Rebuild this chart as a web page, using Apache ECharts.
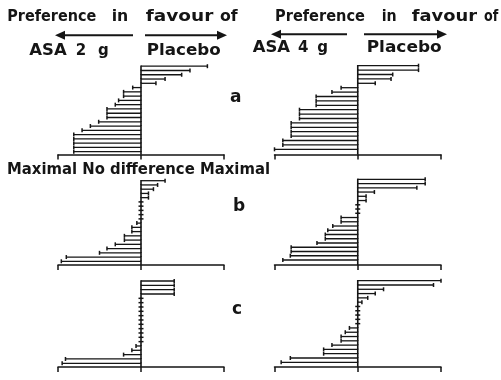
<!DOCTYPE html>
<html><head><meta charset="utf-8">
<script src="https://cdn.jsdelivr.net/npm/echarts@6/dist/echarts.min.js"></script>
<style>html,body{margin:0;padding:0;background:#fff}#c{width:501px;height:380px}</style>
</head><body><div id="c"></div>
<script>
// Preference scores per patient (-1 = maximal preference for ASA, +1 = maximal preference for placebo)
const aAsa2 = [0.80, 0.59, 0.49, 0.29, 0.18, -0.10, -0.21, -0.21, -0.27, -0.31, -0.41, -0.41, -0.41, -0.51, -0.61, -0.71, -0.81, -0.81, -0.81, -0.81, -0.81];
const aAsa4 = [0.73, 0.73, 0.42, 0.40, 0.21, -0.20, -0.31, -0.50, -0.50, -0.50, -0.70, -0.70, -0.70, -0.80, -0.80, -0.80, -0.80, -0.90, -0.90, -1.00];
const bAsa2 = [0.29, 0.20, 0.15, 0.09, 0.09, 0, 0, 0, 0, 0, -0.05, -0.11, -0.11, -0.20, -0.20, -0.31, -0.41, -0.50, -0.90, -0.96];
const bAsa4 = [0.81, 0.81, 0.71, 0.20, 0.10, 0.10, 0, 0, 0, -0.20, -0.20, -0.30, -0.36, -0.39, -0.39, -0.49, -0.80, -0.80, -0.81, -0.90];
const cAsa2 = [0.40, 0.40, 0.40, 0.40, 0, 0, 0, 0, 0, 0, 0, 0, 0, 0, 0, -0.06, -0.11, -0.21, -0.91, -0.95];
const cAsa4 = [1.00, 0.91, 0.31, 0.21, 0.12, 0.05, 0, 0, 0, 0, 0, -0.10, -0.15, -0.20, -0.20, -0.31, -0.41, -0.41, -0.81, -0.92];
const axisTickValues = [-1, 0, 1];
const headerWords = ['Preference', 'in', 'favour', 'of'];
const leftLabelWords = ['ASA', '2', 'g', 'Placebo'];
const rightLabelWords = ['ASA', '4', 'g', 'Placebo'];
const scaleLabel = 'Maximal No difference Maximal';
const panelLetters = ['a', 'b', 'c'];

const INK = '#151515';
const FONT = 'bold 15px "DejaVu Sans"';

const layout = [
  {left: 58, width: 166, first: 66.2, last: 151.7, axis: 154.5},
  {left: 274.5, width: 166.5, first: 65.7, last: 149.3, axis: 154.5},
  {left: 58, width: 166, first: 180.7, last: 261.3, axis: 265},
  {left: 274.5, width: 166.5, first: 179.3, last: 260, axis: 265},
  {left: 58, width: 166, first: 281, last: 363.3, axis: 367},
  {left: 274.5, width: 166.5, first: 280.7, last: 362.3, axis: 367}
];
const panelData = [aAsa2, aAsa4, bAsa2, bAsa4, cAsa2, cAsa4];

function makeRender(N) {
  return function (params, api) {
    const v = api.value(0), i = api.value(1);
    const c0 = api.coord([0, i]), c1 = api.coord([v, i]);
    const cs = params.coordSys;
    const yNext = i === N ? cs.y + cs.height : api.coord([0, i + 1])[1];
    const ch = [{type: 'line', shape: {x1: c0[0], y1: c0[1] - 0.7, x2: c0[0], y2: yNext}, style: {stroke: INK, lineWidth: 1.6}}];
    if (v !== 0) {
      ch.push({type: 'line', shape: {x1: c0[0], y1: c0[1], x2: c1[0], y2: c1[1]}, style: {stroke: INK, lineWidth: 1.3}});
      ch.push({type: 'line', shape: {x1: c1[0], y1: c1[1] - 2, x2: c1[0], y2: c1[1] + 2}, style: {stroke: INK, lineWidth: 1.5}});
    } else {
      ch.push({type: 'line', shape: {x1: c0[0] - 2.5, y1: c0[1], x2: c0[0] + 2.5, y2: c0[1]}, style: {stroke: INK, lineWidth: 1.5}});
    }
    return {type: 'group', children: ch};
  };
}

const grids = [], xAxes = [], yAxes = [], series = [];
panelData.forEach((vals, k) => {
  const L = layout[k];
  const N = vals.length;
  const s = (L.last - L.first) / (N - 1);
  const top = L.first - s;
  const h = L.axis - top;
  grids.push({left: L.left, top: top, width: L.width, height: h, containLabel: false, outerBoundsMode: 'none'});
  xAxes.push({
    gridIndex: k, type: 'value', min: axisTickValues[0], max: axisTickValues[2], interval: 1,
    axisLine: {show: true, onZero: false, lineStyle: {color: INK, width: 1.5}},
    axisTick: {show: true, inside: false, length: 5, lineStyle: {color: INK, width: 1.5}},
    axisLabel: {show: false}, splitLine: {show: false}
  });
  yAxes.push({gridIndex: k, type: 'value', inverse: true, min: 0, max: h / s, show: false, splitLine: {show: false}});
  series.push({
    type: 'custom', xAxisIndex: k, yAxisIndex: k, clip: false, silent: true,
    data: vals.map((v, i) => [v, i + 1]), encode: {x: 0, y: 1},
    renderItem: makeRender(N)
  });
});

// text fitted horizontally to the span it covers in the reference
const mctx = document.createElement('canvas').getContext('2d');
function fit(text, x0, x1, y, font) {
  font = font || FONT;
  mctx.font = font;
  const w = mctx.measureText(text).width;
  if (text.length === 1) {
    return {type: 'text', silent: true, x: (x0 + x1) / 2, y: y, style: {text: text, x: 0, y: 0, font: font, fill: INK, textAlign: 'center', textVerticalAlign: 'middle'}};
  }
  const sx = Math.max(0.85, Math.min(1.3, (x1 - x0) / w));
  return {type: 'text', silent: true, x: x0, y: y, scaleX: sx, scaleY: 1, style: {text: text, x: 0, y: 0, font: font, fill: INK, textAlign: 'left', textVerticalAlign: 'middle'}};
}
function arrow(x1, x2, y, headAt) {
  const dir = headAt === 'left' ? -1 : 1;
  const tip = headAt === 'left' ? x1 : x2;
  const base = tip - dir * 10;
  return [
    {type: 'line', silent: true, shape: {x1: headAt === 'left' ? base : x1, y1: y, x2: headAt === 'left' ? x2 : base, y2: y}, style: {stroke: INK, lineWidth: 2}},
    {type: 'polygon', silent: true, shape: {points: [[tip, y], [base, y - 4.5], [base, y + 4.5]]}, style: {fill: INK}}
  ];
}

const leftHeaderSpans = [[7.3, 96.3], [111.7, 128.3], [145.7, 213.3], [220, 237.7]];
const rightHeaderSpans = [[275, 365], [381.7, 396.7], [411.7, 477], [484, 498.3]];
const leftLabelSpans = [[29.3, 66.7], [76, 86], [96.7, 110], [146.7, 220.7]];
const rightLabelSpans = [[252.7, 290], [298.3, 308.3], [316.7, 328.3], [366.7, 441.7]];
const graphics = [];
headerWords.forEach((w, i) => {
  graphics.push(fit(w, leftHeaderSpans[i][0], leftHeaderSpans[i][1], 17));
  graphics.push(fit(w, rightHeaderSpans[i][0], rightHeaderSpans[i][1], 17));
});
leftLabelWords.forEach((w, i) => graphics.push(fit(w, leftLabelSpans[i][0], leftLabelSpans[i][1], 51.5)));
rightLabelWords.forEach((w, i) => graphics.push(fit(w, rightLabelSpans[i][0], rightLabelSpans[i][1], 48.5)));
graphics.push(...arrow(55, 133, 35.3, 'left'), ...arrow(145, 227, 35.3, 'right'));
graphics.push(...arrow(271, 347, 34.3, 'left'), ...arrow(364, 447, 34.3, 'right'));
graphics.push(fit(scaleLabel, 7, 270, 170.5));
const letterSpans = [[230, 241.7, 98], [233, 245, 207], [232.3, 241.7, 310]];
panelLetters.forEach((l, i) => graphics.push(fit(l, letterSpans[i][0], letterSpans[i][1], letterSpans[i][2], 'bold 17px "DejaVu Sans"')));

const chart = echarts.init(document.getElementById('c'), null, {renderer: 'canvas', width: 501, height: 380});
chart.setOption({
  animation: false,
  backgroundColor: '#fff',
  grid: grids, xAxis: xAxes, yAxis: yAxes, series: series,
  graphic: graphics
});
</script></body></html>
